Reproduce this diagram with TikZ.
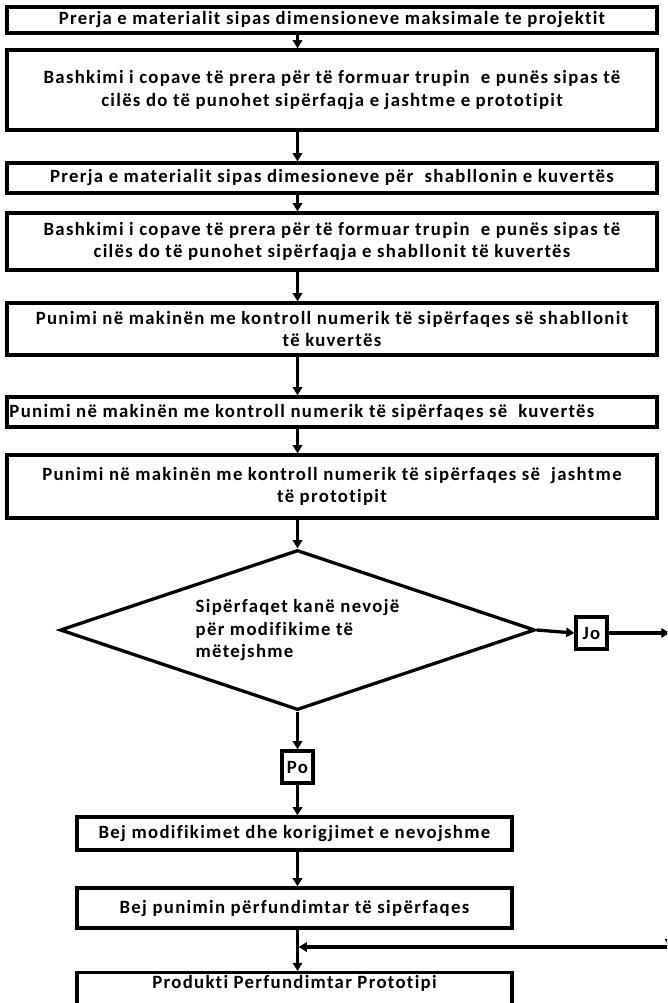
\documentclass[tikz,border=0pt]{standalone}
\usepackage{fontspec}
\setmainfont{Carlito}[LetterSpace=7, Ligatures=NoCommon]
\usepackage{tikz}
\usetikzlibrary{shapes.geometric}
\usetikzlibrary{arrows.meta}
\tikzset{>={Triangle[length=7pt,width=8pt]}, every edge/.style={draw}}

\begin{document}
\begin{tikzpicture}[x=0.03cm, y=-0.03cm, line width=2.8pt,
  every node/.style={font=\bfseries\fontsize{16}{19}\selectfont},
  box/.style={draw, minimum width=19.5cm, align=center, inner sep=2pt},
  lbox/.style={draw, minimum width=13.05cm, align=center, inner sep=2pt},
  tag/.style={draw, minimum width=0.93cm, minimum height=0.96cm, inner sep=0pt}]
  \useasboundingbox (0,0) rectangle (667,1003);
  \clip (0,0) rectangle (667,1003);

  \node[box, minimum height=0.78cm] at (332, 20) (b1) {Prerja e materialit sipas dimensioneve maksimale te projektit};
  \node[box, minimum height=2.4cm] at (332, 90) (b2) {Bashkimi i copave të prera për të formuar trupin~ e punës sipas të\\cilës do të punohet sipërfaqja e jashtme e prototipit};
  \node[box, minimum height=0.9cm] at (332, 178) (b3) {Prerja e materialit sipas dimesioneve për~ shabllonin e kuvertës};
  \node[box, minimum height=1.71cm] at (332, 241.5) (b4) {Bashkimi i copave të prera për të formuar trupin~ e punës sipas të\\cilës do të punohet sipërfaqja e shabllonit të kuvertës};
  \node[box, minimum height=1.56cm] at (332, 329) (b5) {Punimi në makinën me kontroll numerik të sipërfaqes së shabllonit\\të kuvertës};
  \node[box, minimum height=0.9cm, text width=19.35cm, align=flush left] at (332, 412) (b6) {Punimi në makinën me kontroll numerik të sipërfaqes së~ kuvertës};
  \node[box, minimum height=1.89cm] at (332, 486.5) (b7) {Punimi në makinën me kontroll numerik të sipërfaqes së~ jashtme\\të prototipit};

  \node[draw, diamond, aspect=3, inner sep=0pt, minimum width=14.25cm, minimum height=4.8cm, align=left] at (297.5, 630) (d) {Sipërfaqet kanë nevojë\\për modifikime të\\mëtejshme};
  \node[tag] at (591.5, 633) (jo) {Jo};
  \node[tag] at (297.5, 767) (po) {Po};

  \node[lbox, minimum height=0.99cm] at (294.5, 833.5) (m) {Bej modifikimet dhe korigjimet e nevojshme};
  \node[lbox, minimum height=1.2cm] at (294.5, 908) (f) {Bej punimin përfundimtar të sipërfaqes};
  \node[lbox, anchor=north, text depth=1cm] at (294.5, 971) (p) {Produkti Perfundimtar Prototipi};

  \coordinate (rt) at (669.5, 633);
  \coordinate (rb) at (669.5, 947);

  \draw (b1.south -| d.north) edge[->] (b2.north -| d.north);
  \draw (b2.south -| d.north) edge[->] (b3.north -| d.north);
  \draw (b3.south -| d.north) edge[->] (b4.north -| d.north);
  \draw (b4.south -| d.north) edge[->] (b5.north -| d.north);
  \draw (b5.south -| d.north) edge[->] (b6.north -| d.north);
  \draw (b6.south -| d.north) edge[->] (b7.north -| d.north);
  \draw (b7.south -| d.north) edge[->] (d.north);

  \draw (d.east) edge[->] (jo.west);
  \draw (jo.east) edge[->] (rt);
  \draw (rt) edge[->] (rb);
  \draw (d.south) edge[->] (po.north);

  \draw (po.south) edge[->] (m.north -| po.south);
  \draw (m.south -| po.south) edge[->] (f.north -| po.south);
  \draw (f.south -| po.south) edge[->] (p.north -| po.south);
  \draw (rb) edge[->, shorten >=1pt] (rb -| po.south);
\end{tikzpicture}
\end{document}
